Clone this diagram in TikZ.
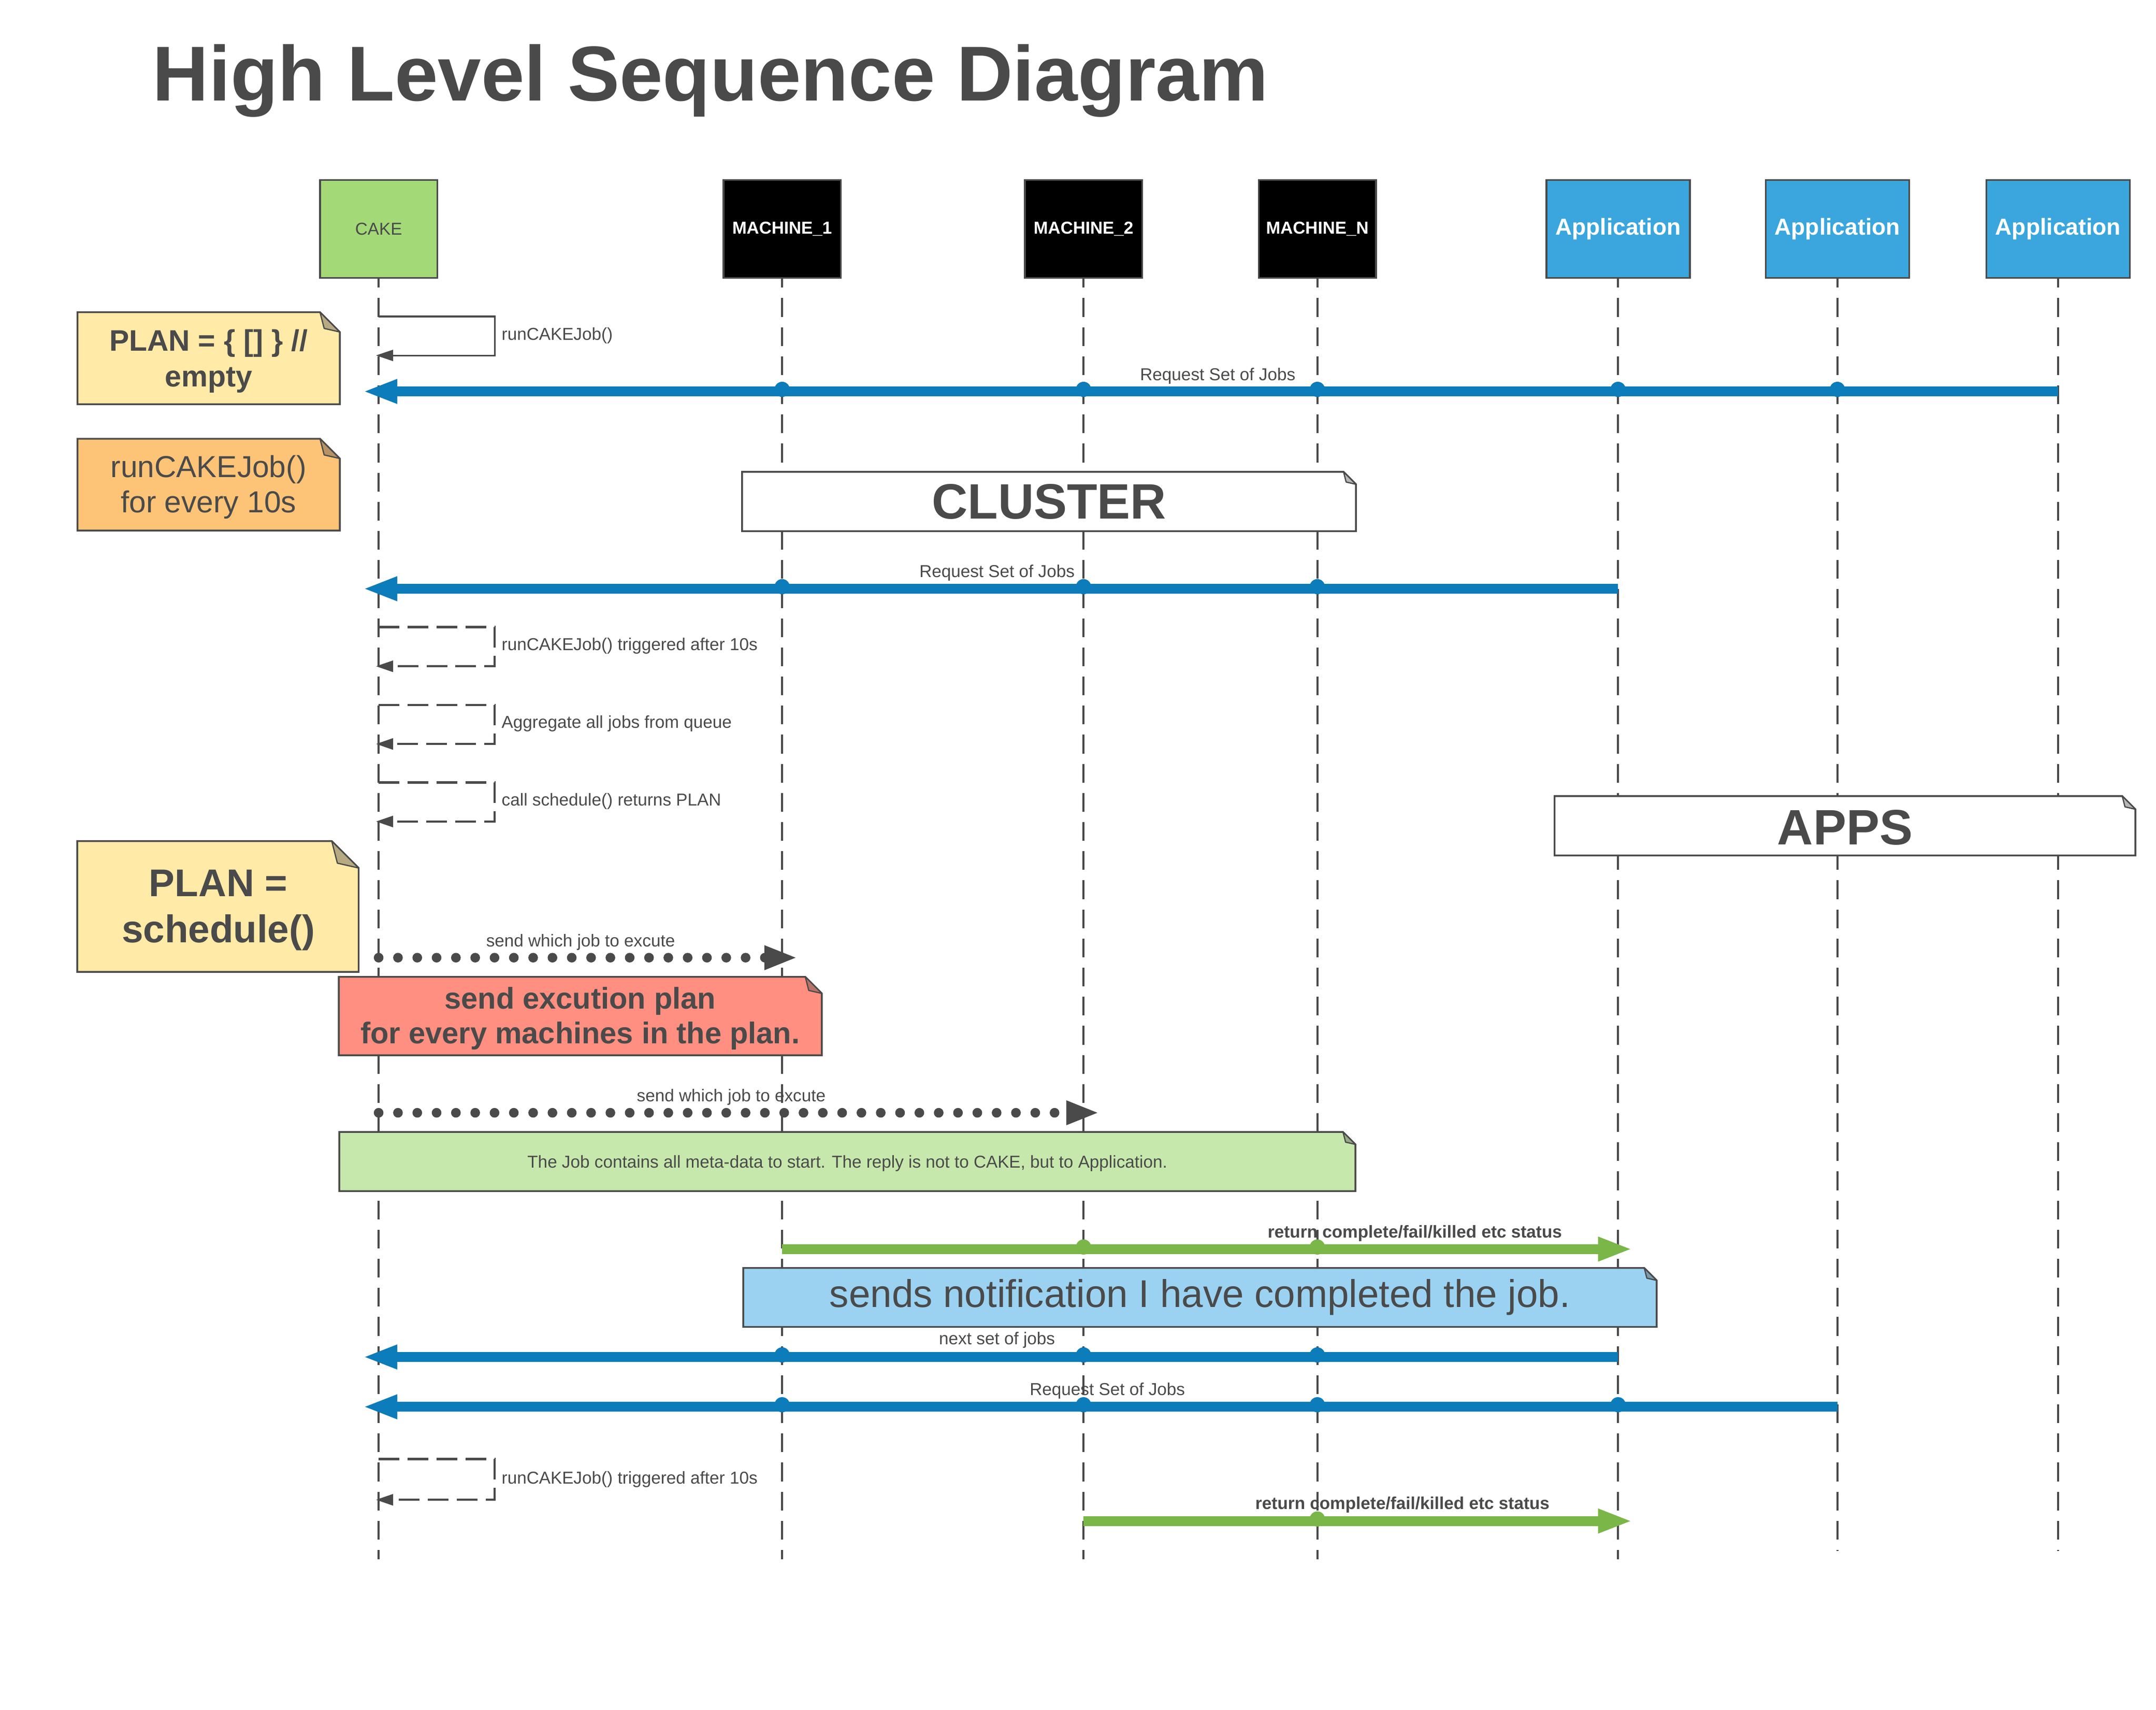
\documentclass[tikz,border=0pt]{standalone}
\usepackage{fontspec}
\setmainfont{Liberation Sans}
\usetikzlibrary{arrows.meta,calc}
\definecolor{ink}{HTML}{4A4A4A}
\definecolor{msgblue}{HTML}{0C7CBA}
\definecolor{msggreen}{HTML}{7AB648}
\definecolor{cakegreen}{HTML}{A3D977}
\definecolor{appblue}{HTML}{3AA6DD}
\definecolor{nyellow}{HTML}{FFEAA7}
\definecolor{norange}{HTML}{FDC477}
\definecolor{nsalmon}{HTML}{FF8F80}
\definecolor{ngreen}{HTML}{C7E8AC}
\definecolor{nblue}{HTML}{9BD2F1}
\newcommand\myfs[2]{\fontsize{#1pt}{#2pt}\selectfont}
% note shape: x1 y1 x2 y2 fill foldsize
\newcommand\notebox[6]{%
  \filldraw[draw=ink, line width=1.3pt, fill=#5] (#1,#2) -- (#3-#6,#2) -- (#3,#2+#6) -- (#3,#4) -- (#1,#4) -- cycle;
  \filldraw[draw=ink, line width=0.9pt, fill=#5!60!ink, line join=round] (#3-#6,#2) -- (#3-0.79*#6,#2+0.82*#6) -- (#3,#2+#6) -- cycle;
}
\tikzset{
  hdr/.style={draw=ink, line width=1.3pt, minimum width=85pt, minimum height=71pt, inner sep=0pt},
  machine/.style={hdr, fill=black, text=white, font=\myfs{12.5}{15}\bfseries},
  apphdr/.style={hdr, minimum width=104pt, fill=appblue, text=white, font=\myfs{16.7}{20}\bfseries},
  lifeline/.style={draw=ink, line width=1.5pt, dash pattern=on 13.6pt off 7.5pt, dash phase=7.1pt},
  lbl/.style={inner sep=0pt, text=ink, font=\myfs{12.5}{15}},
  lblbold/.style={inner sep=0pt, text=ink, font=\myfs{12.5}{15}\bfseries},
  notetxt/.style={inner sep=0pt, text=ink, align=center},
  bluemsg/.style={draw=msgblue, line width=7pt, -{Triangle[length=25pt,width=16pt]}},
  greenmsg/.style={draw=msggreen, line width=7pt, -{Triangle[length=25pt,width=16pt]}},
  dotmsg/.style={draw=ink, line width=7pt, line cap=round, dash pattern=on 0pt off 14pt, -{Triangle[length=24pt,width=16pt]}},
  selfsolid/.style={draw=ink, line width=1.2pt, -{Triangle[length=12.5pt,width=8pt]}},
  selfdash/.style={draw=ink, line width=1.7pt, dash pattern=on 15pt off 6pt, -{Triangle[length=12.5pt,width=8pt]}},
}
\begin{document}
\begin{tikzpicture}[x=1pt,y=-1pt]
\path[use as bounding box, fill=white] (0,0) rectangle (1563,1239);

% title
\node[anchor=base west, inner sep=0pt, text=ink, font=\myfs{56.4}{67}\bfseries] (title) at (110.5,73.2) {High Level Sequence Diagram};

% headers
\node[hdr, fill=cakegreen, text=ink, font=\myfs{12.5}{15}] (cake) at (274.5,165.9) {CAKE};
\node[machine] (m1) at (567,165.9) {MACHINE\_1};
\node[machine] (m2) at (785.5,165.9) {MACHINE\_2};
\node[machine] (mn) at (955,165.9) {MACHINE\_N};
\node[apphdr] (a1) at (1173,165.9) {Application};
\node[apphdr] (a2) at (1332,165.9) {Application};
\node[apphdr] (a3) at (1492,165.9) {Application};

% row coordinates
\coordinate (lend) at (0,1130);
\coordinate (lendb) at (0,1124);
\coordinate (s0t) at (0,229.4);  \coordinate (s0b) at (0,257.6);
\coordinate (r1) at (0,283.7);
\coordinate (r2) at (0,426.7);
\coordinate (sat) at (0,454.4);  \coordinate (sab) at (0,482.9);
\coordinate (sbt) at (0,510.9);  \coordinate (sbb) at (0,539.2);
\coordinate (sct) at (0,567.1);  \coordinate (scb) at (0,595.4);
\coordinate (d1) at (0,694.1);
\coordinate (d2) at (0,806.5);
\coordinate (g1) at (0,905.3);
\coordinate (nx) at (0,983.5);
\coordinate (r3) at (0,1019.6);
\coordinate (sdt) at (0,1057.5); \coordinate (sdb) at (0,1087);
\coordinate (g2) at (0,1102.4);
\coordinate (selfr) at (358.6,0);
\coordinate (tipself) at (272.5,0);
\coordinate (tipc) at (263,0);
\coordinate (tipa) at (1183.5,0);
\coordinate (tipm1) at (578.2,0);
\coordinate (tipm2) at (797,0);

% lifelines
\draw[lifeline] (cake.south) -- (cake |- lend);
\draw[lifeline] (m1.south) -- (m1 |- lend);
\draw[lifeline] (m2.south) -- (m2 |- lend);
\draw[lifeline] (mn.south) -- (mn |- lend);
\draw[lifeline] (a1.south) -- (a1 |- lend);
\draw[lifeline] (a2.south) -- (a2 |- lendb);
\draw[lifeline] (a3.south) -- (a3 |- lendb);

% self call (solid)
\draw[selfsolid] (cake |- s0t) -- (selfr |- s0t) -- (selfr |- s0b) -- (tipself |- s0b);
\node[lbl, anchor=base west] (l0) at (363.5,246.3) {runCAKEJob()};

% Request Set of Jobs 1
\draw[bluemsg] (a3 |- r1) -- (tipc |- r1);
\foreach \l in {m1,m2,mn,a1,a2} \fill[msgblue] (\l |- r1) ++(0,-1.5) circle[radius=5.5pt];
\node[lbl, anchor=base] (l1) at (882.8,275.7) {Request Set of Jobs};

% Request Set of Jobs 2
\draw[bluemsg] (a1 |- r2) -- (tipc |- r2);
\foreach \l in {m1,m2,mn} \fill[msgblue] (\l |- r2) ++(0,-1.5) circle[radius=5.5pt];
\node[lbl, anchor=base] (l2) at (722.8,418.4) {Request Set of Jobs};

% dashed self calls
\draw[selfdash] (cake |- sat) -- (selfr |- sat) -- (selfr |- sab) -- (tipself |- sab);
\node[lbl, anchor=base west] (l3) at (363.5,471.2) {runCAKEJob() triggered after 10s};
\draw[selfdash] (cake |- sbt) -- (selfr |- sbt) -- (selfr |- sbb) -- (tipself |- sbb);
\node[lbl, anchor=base west] (l4) at (363.5,527.7) {Aggregate all jobs from queue};
\draw[selfdash] (cake |- sct) -- (selfr |- sct) -- (selfr |- scb) -- (tipself |- scb);
\node[lbl, anchor=base west] (l5) at (363.5,583.9) {call schedule() returns PLAN};

% dotted sends
\draw[dotmsg] (cake |- d1) -- (tipm1 |- d1);
\node[lbl, anchor=base] (l6) at (420.9,686) {send which job to excute};
\draw[dotmsg] (cake |- d2) -- (tipm2 |- d2);
\node[lbl, anchor=base] (l7) at (530.1,798.3) {send which job to excute};

% green return 1
\draw[greenmsg] (m1 |- g1) -- (tipa |- g1);
\foreach \l in {m2,mn} \fill[msggreen] (\l |- g1) ++(0,-1.5) circle[radius=5.5pt];
\node[lblbold, anchor=base] (l8) at (1025.7,897) {return complete/fail/killed etc status};

% next set of jobs
\draw[bluemsg] (a1 |- nx) -- (tipc |- nx);
\foreach \l in {m1,m2,mn} \fill[msgblue] (\l |- nx) ++(0,-1.5) circle[radius=5.5pt];
\node[lbl, anchor=base] (l9) at (722.8,974.5) {next set of jobs};

% Request Set of Jobs 3
\draw[bluemsg] (a2 |- r3) -- (tipc |- r3);
\foreach \l in {m1,m2,mn,a1} \fill[msgblue] (\l |- r3) ++(0,-1.5) circle[radius=5.5pt];
\node[lbl, anchor=base] (l10) at (802.8,1011.1) {Request Set of Jobs};

% dashed self call 4
\draw[selfdash] (cake |- sdt) -- (selfr |- sdt) -- (selfr |- sdb) -- (tipself |- sdb);
\node[lbl, anchor=base west] (l11) at (363.5,1075.3) {runCAKEJob() triggered after 10s};

% green return 2
\draw[greenmsg] (m2 |- g2) -- (tipa |- g2);
\fill[msggreen] (mn |- g2) ++(0,-1.5) circle[radius=5.5pt];
\node[lblbold, anchor=base] (l12) at (1016.7,1093.9) {return complete/fail/killed etc status};

% notes
\notebox{56.2}{226.3}{246.3}{293.0}{nyellow}{14.3}
\node[notetxt, font=\myfs{21.5}{25.8}\bfseries] (plan0) at (151.2,261.7) {PLAN = \{ [] \} //\\empty};

\notebox{56.2}{318}{246.3}{384.5}{norange}{14.3}
\node[notetxt, font=\myfs{22}{25.6}] (every10) at (151.2,353.1) {runCAKEJob()\\for every 10s};

\notebox{538}{342}{983}{385}{white}{9}
\node[notetxt, anchor=base, font=\myfs{36}{43}\bfseries] (cluster) at (760.5,376) {CLUSTER};

\notebox{1127}{577}{1548}{620}{white}{9.5}
\node[notetxt, anchor=base, font=\myfs{36}{43}\bfseries] (apps) at (1337.5,612) {APPS};

\notebox{56}{609.6}{260}{704.4}{nyellow}{19.5}
\node[notetxt, font=\myfs{28}{33.5}\bfseries] (plansched) at (158.3,659.7) {PLAN =\\schedule()};

\notebox{245.6}{708}{595.8}{764.8}{nsalmon}{12}
\node[notetxt, font=\myfs{21.7}{25.2}\bfseries] (sendplan) at (420.6,738) {send excution plan\\for every machines in the plan.};

\notebox{246}{820.4}{982.6}{863.3}{ngreen}{9}
\node[notetxt, anchor=base, font=\myfs{12.5}{15}] (jobnote) at (614.3,846.4) {The Job contains all meta-data to start. The reply is not to CAKE, but to Application.};

\notebox{538.8}{919}{1201}{961.7}{nblue}{9}
\node[notetxt, anchor=base, font=\myfs{28}{33.5}] (notif) at (869.9,947.6) {sends notification I have completed the job.};
\end{tikzpicture}
\end{document}
